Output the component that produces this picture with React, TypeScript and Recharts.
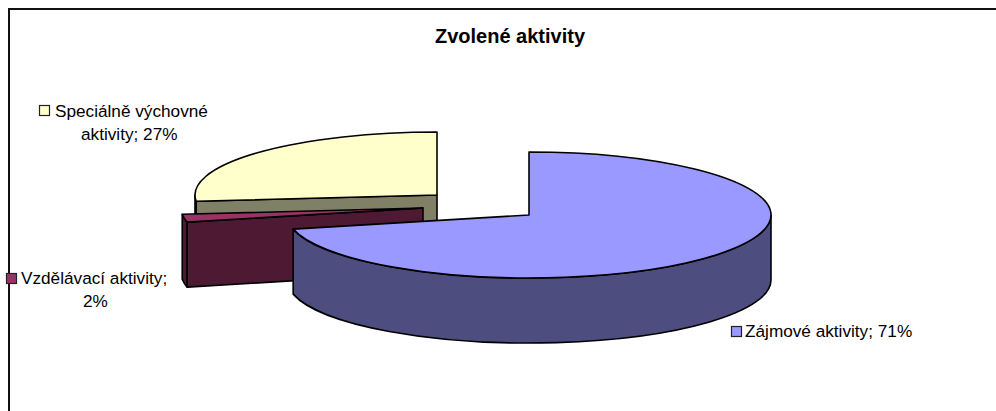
import React from 'react';
import { PieChart, Pie } from 'recharts';

const categories = ['Speciálně výchovné aktivity', 'Vzdělávací aktivity', 'Zájmové aktivity'];
const shares = [26.6, 2, 71.4];
const chartTitle = 'Zvolené aktivity';

const data = categories.map((name, i) => ({ name, value: shares[i] }));

const WIDTH = 996;
const HEIGHT = 411;
const TILT = 63 / 242;
const DEPTH = 65;

const sliceStyles: Record<string, any> = {
    'Speciálně výchovné aktivity': { top: '#FFFFCC', side: '#808066', dx: -92, dy: -20 },
    'Vzdělávací aktivity': { top: '#993366', side: '#4D1933', dx: -106, dy: -7 },
    'Zájmové aktivity': { top: '#9999FF', side: '#4D4D80', dx: 0, dy: 0 },
};

const labelStyles: Record<string, any> = {
    'Speciálně výchovné aktivity': {
        key: [39.5, 105.5],
        lines: [
            { text: 'Speciálně výchovné', x: 55, y: 117 },
            { text: 'aktivity; 27%', x: 81, y: 140 },
        ],
    },
    'Vzdělávací aktivity': {
        key: [6.5, 273.5],
        lines: [
            { text: 'Vzdělávací aktivity;', x: 21, y: 284 },
            { text: '2%', x: 83, y: 307 },
        ],
    },
    'Zájmové aktivity': {
        key: [731.5, 326.5],
        lines: [{ text: 'Zájmové aktivity; 71%', x: 745, y: 337 }],
    },
};

const RAD = Math.PI / 180;

// flattened, exploded 3D slice built from the angles the Pie hands over
const Slice3D = (props: any) => {
    const { cx, cy, outerRadius, startAngle, endAngle, name } = props;
    const s = sliceStyles[name];
    const x0 = cx + s.dx;
    const y0 = cy + s.dy;
    const rx = outerRadius;
    const ry = outerRadius * TILT;
    const pt = (a: number, drop = 0) =>
        `${x0 + rx * Math.cos(a * RAD)} ${y0 - ry * Math.sin(a * RAD) + drop}`;

    const top =
        `M${x0} ${y0} L${pt(startAngle)} ` +
        `A${rx} ${ry} 0 ${endAngle - startAngle > 180 ? 1 : 0} 0 ${pt(endAngle)} Z`;

    // only the front half of the rim can be seen
    const from = Math.max(startAngle, 180);
    const to = Math.min(endAngle, 360);
    const rim =
        to > from
            ? `M${pt(from)} A${rx} ${ry} 0 ${to - from > 180 ? 1 : 0} 0 ${pt(to)} ` +
              `L${pt(to, DEPTH)} A${rx} ${ry} 0 ${to - from > 180 ? 1 : 0} 1 ${pt(from, DEPTH)} Z`
            : null;

    // cut face on the end edge shows when it looks towards the viewer
    const showFace = Math.cos(endAngle * RAD) < -0.01;
    const face = showFace
        ? `M${x0} ${y0} L${pt(endAngle)} L${pt(endAngle, DEPTH)} L${x0} ${y0 + DEPTH} Z`
        : null;

    const line = { stroke: '#000', strokeWidth: 1.6, strokeLinejoin: 'round' as const };
    return (
        <g>
            {rim && <path d={rim} fill={s.side} {...line} />}
            {face && <path d={face} fill={s.side} {...line} />}
            <path d={top} fill={s.top} {...line} />
        </g>
    );
};

const SliceLabel = (props: any) => {
    const l = labelStyles[props.name];
    const s = sliceStyles[props.name];
    return (
        <g>
            <rect x={l.key[0]} y={l.key[1]} width={10} height={10} fill={s.top} stroke="#222" strokeWidth={1.2} />
            {l.lines.map((t: any) => (
                <text key={t.text} x={t.x} y={t.y} fontSize={17.2} fill="#000" fontFamily="'Liberation Sans'">
                    {t.text}
                </text>
            ))}
        </g>
    );
};

export default function App() {
    return (
        <div style={{ position: 'absolute', left: 0, top: 0, width: WIDTH, height: HEIGHT, background: '#fff' }}>
            <PieChart width={WIDTH} height={HEIGHT} margin={{ top: 0, right: 0, bottom: 0, left: 0 }}>
                <path d="M9 411 V9 H996" fill="none" stroke="#111" strokeWidth={2} />
                <text
                    x={510}
                    y={43}
                    textAnchor="middle"
                    fontSize={20}
                    fontWeight="bold"
                    fill="#000"
                    fontFamily="'Liberation Sans'"
                >
                    {chartTitle}
                </text>
                <Pie
                    data={data}
                    dataKey="value"
                    nameKey="name"
                    cx={529}
                    cy={215}
                    innerRadius={0}
                    outerRadius={242}
                    startAngle={90}
                    endAngle={450}
                    stroke="none"
                    shape={Slice3D}
                    label={SliceLabel}
                    labelLine={false}
                    isAnimationActive={false}
                />
            </PieChart>
        </div>
    );
}
